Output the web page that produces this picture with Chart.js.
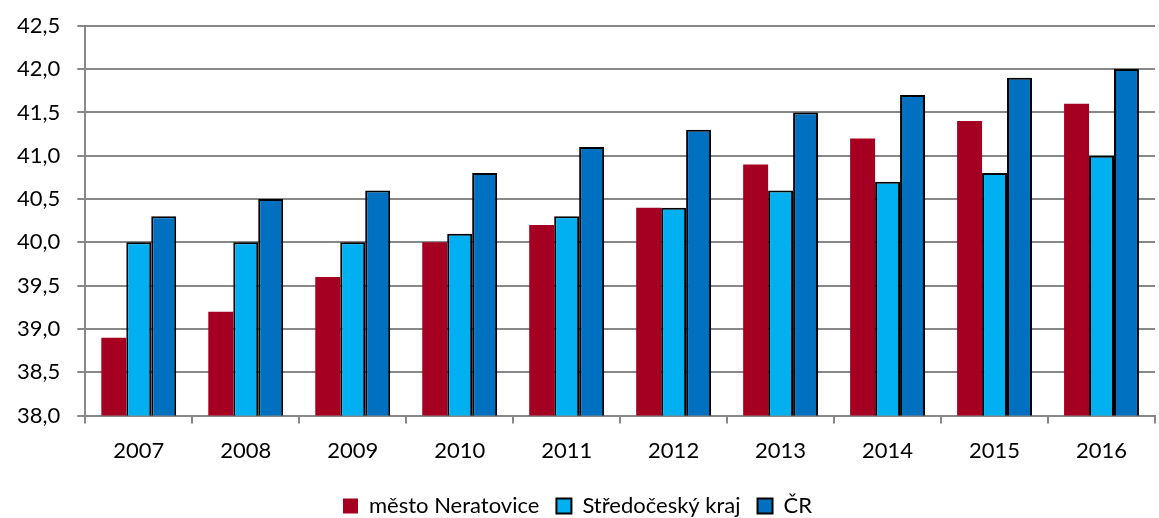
<!DOCTYPE html>
<html>
<head>
<meta charset="utf-8">
<script src="https://cdn.jsdelivr.net/npm/chart.js@4"></script>
<style>
  html, body { margin: 0; padding: 0; background: #fff; }
  #wrap { width: 1159px; height: 518px; }
</style>
</head>
<body>
<div id="wrap"><canvas id="myChart"></canvas></div>
<script>
// Průměrný věk obyvatel
const years = ["2007", "2008", "2009", "2010", "2011", "2012", "2013", "2014", "2015", "2016"];
const neratovice = [38.9, 39.2, 39.6, 40.0, 40.2, 40.4, 40.9, 41.2, 41.4, 41.6];
const stredocesky = [40.0, 40.0, 40.0, 40.1, 40.3, 40.4, 40.6, 40.7, 40.8, 41.0];
const cr = [40.3, 40.5, 40.6, 40.8, 41.1, 41.3, 41.5, 41.7, 41.9, 42.0];
const seriesNames = ["město Neratovice", "Středočeský kraj", "ČR"];

const font = { family: "Lato, 'Open Sans', sans-serif", size: 22 };

new Chart(document.getElementById("myChart"), {
  type: "bar",
  data: {
    labels: years,
    datasets: [{
      label: seriesNames[0],
      data: neratovice,
      backgroundColor: '#A50021',
      borderWidth: 0
    }, {
      label: seriesNames[1],
      data: stredocesky,
      backgroundColor: '#00B0F0',
      borderColor: '#000',
      borderWidth: 2
    }, {
      label: seriesNames[2],
      data: cr,
      backgroundColor: '#0070C0',
      borderColor: '#000',
      borderWidth: 2
    }]
  },
  options: {
    animation: false,
    maintainAspectRatio: false,
    responsive: true,
    layout: { padding: { top: 25, right: 4, left: 0, bottom: -9 } },
    datasets: { bar: { categoryPercentage: 0.7, barPercentage: 1.0 } },
    plugins: {
      tooltip: { enabled: false },
      legend: {
        position: 'bottom',
        labels: {
          color: '#000',
          font: font,
          boxWidth: 15,
          boxHeight: 15,
          padding: 17
        }
      }
    },
    scales: {
      x: {
        grid: { display: true, offset: true, drawOnChartArea: false, color: '#888', tickLength: 8, lineWidth: 2 },
        border: { color: '#888', width: 2 },
        ticks: { color: '#000', font: font, padding: 14, maxRotation: 0 }
      },
      y: {
        min: 38,
        max: 42.5,
        grid: { color: '#888', tickLength: 8, lineWidth: 2 },
        border: { color: '#888', width: 2 },
        ticks: {
          stepSize: 0.5,
          color: '#000',
          font: { family: font.family, size: 22, lineHeight: 0.8 },
          padding: 17,
          callback: v => v.toFixed(1).replace('.', ',')
        }
      }
    }
  }
});
</script>
</body>
</html>
